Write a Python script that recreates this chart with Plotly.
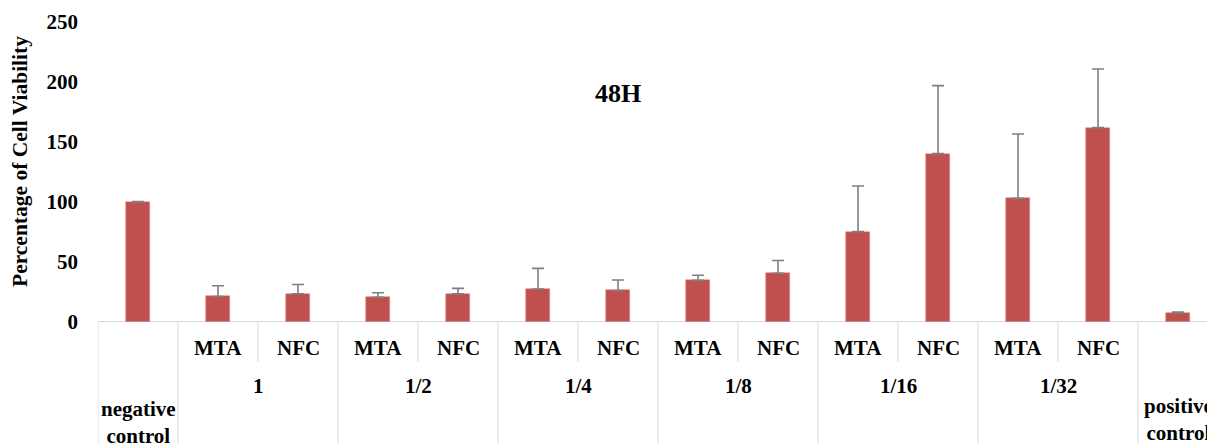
import plotly.graph_objects as go

# ---- data ----
title_text = "48H"
y_title = "Percentage of Cell Viability"
dilutions = ["1", "1/2", "1/4", "1/8", "1/16", "1/32"]
materials = ["MTA", "NFC"]
negative_control = 100.0
negative_control_err = 0.3
mta_values = [21.3, 20.5, 27.5, 34.7, 75.3, 103.0]
mta_err = [8.9, 3.9, 17.2, 4.3, 38.0, 53.7]
nfc_values = [23.6, 23.6, 26.3, 40.6, 140.3, 162.0]
nfc_err = [7.7, 4.4, 8.7, 10.6, 56.7, 48.8]
positive_control = 7.5
positive_control_err = 0.8
y_ticks = [0, 50, 100, 150, 200, 250]

# ---- assemble ----
values = [negative_control]
errs = [negative_control_err]
for v1, e1, v2, e2 in zip(mta_values, mta_err, nfc_values, nfc_err):
    values += [v1, v2]
    errs += [e1, e2]
values.append(positive_control)
errs.append(positive_control_err)
xs = list(range(len(values)))

FONT = "Liberation Serif"
BAR = "#C0504D"
GRID = "#D9D9D9"

# pixel helpers (plot area: top 22, bottom 322, height 300)
def py(p):
    return (322 - p) / 300.0

fig = go.Figure()
fig.add_trace(go.Bar(
    x=xs, y=values, width=0.3,
    marker=dict(color=BAR, line=dict(color="#D99694", width=0.6)),
    error_y=dict(type="data", array=errs, arrayminus=[0] * len(errs),
                 symmetric=False, color="#7F7F7F", thickness=1.6, width=6),
    showlegend=False,
))

shapes = []
n = len(values)
shapes.append(dict(type="line", xref="x", yref="y", x0=-0.5, x1=n - 0.5, y0=0, y1=0,
                   line=dict(color=GRID, width=2), layer="below"))
bottom = py(443)
inner_bottom = py(362)
outer = [-0.5, 0.5] + [0.5 + 2 * (i + 1) for i in range(len(dilutions))]
for b in outer:
    shapes.append(dict(type="line", xref="x", yref="paper", x0=b, x1=b, y0=0, y1=bottom,
                       line=dict(color=GRID, width=1)))
for i in range(len(dilutions)):
    b = 1.5 + 2 * i
    shapes.append(dict(type="line", xref="x", yref="paper", x0=b, x1=b, y0=0, y1=inner_bottom,
                       line=dict(color=GRID, width=1)))

ann = []
lab_font = dict(family=FONT, size=21, color="black", weight="bold")
for i, d in enumerate(dilutions):
    for j, m in enumerate(materials):
        ann.append(dict(x=1 + 2 * i + j, y=py(348), xref="x", yref="paper", text=m,
                        showarrow=False, font=lab_font, xanchor="center", yanchor="middle"))
    ann.append(dict(x=1.5 + 2 * i, y=py(386), xref="x", yref="paper", text=d,
                    showarrow=False, font=lab_font, xanchor="center", yanchor="middle"))
ann.append(dict(x=0, y=py(422), xref="x", yref="paper", text="negative<br>control",
                showarrow=False, font=lab_font, xanchor="center", yanchor="middle"))
ann.append(dict(x=n - 1, y=py(419), xref="x", yref="paper", text="positive<br>control",
                showarrow=False, font=lab_font, xanchor="center", yanchor="middle"))
ann.append(dict(x=(618 - 98) / 1109, y=py(93.5), xref="paper", yref="paper", text=title_text,
                showarrow=False, font=dict(family=FONT, size=26, color="black", weight="bold"),
                xanchor="center", yanchor="middle"))
ann.append(dict(x=(20 - 98) / 1109, y=py(162), xref="paper", yref="paper", text=y_title,
                textangle=-90, showarrow=False,
                font=dict(family=FONT, size=21.5, color="black", weight="bold"),
                xanchor="center", yanchor="middle"))

fig.update_layout(
    width=1207, height=443,
    margin=dict(l=98, r=0, t=22, b=121, autoexpand=False),
    paper_bgcolor="white", plot_bgcolor="white",
    xaxis=dict(range=[-0.5, -0.5 + (1207 - 98) / 80.0], showticklabels=False,
               showgrid=False, zeroline=False, showline=False, ticks=""),
    yaxis=dict(range=[0, 250], tickvals=y_ticks, showgrid=False, zeroline=False,
               showline=False, ticks="", ticklabelstandoff=19,
               tickfont=dict(family=FONT, size=21, color="black", weight="bold")),
    shapes=shapes,
    annotations=ann,
    bargap=0,
)

fig.write_html("out.html", config={"displayModeBar": False},
               post_script="document.body.style.margin='0';document.body.style.overflow='hidden';")
